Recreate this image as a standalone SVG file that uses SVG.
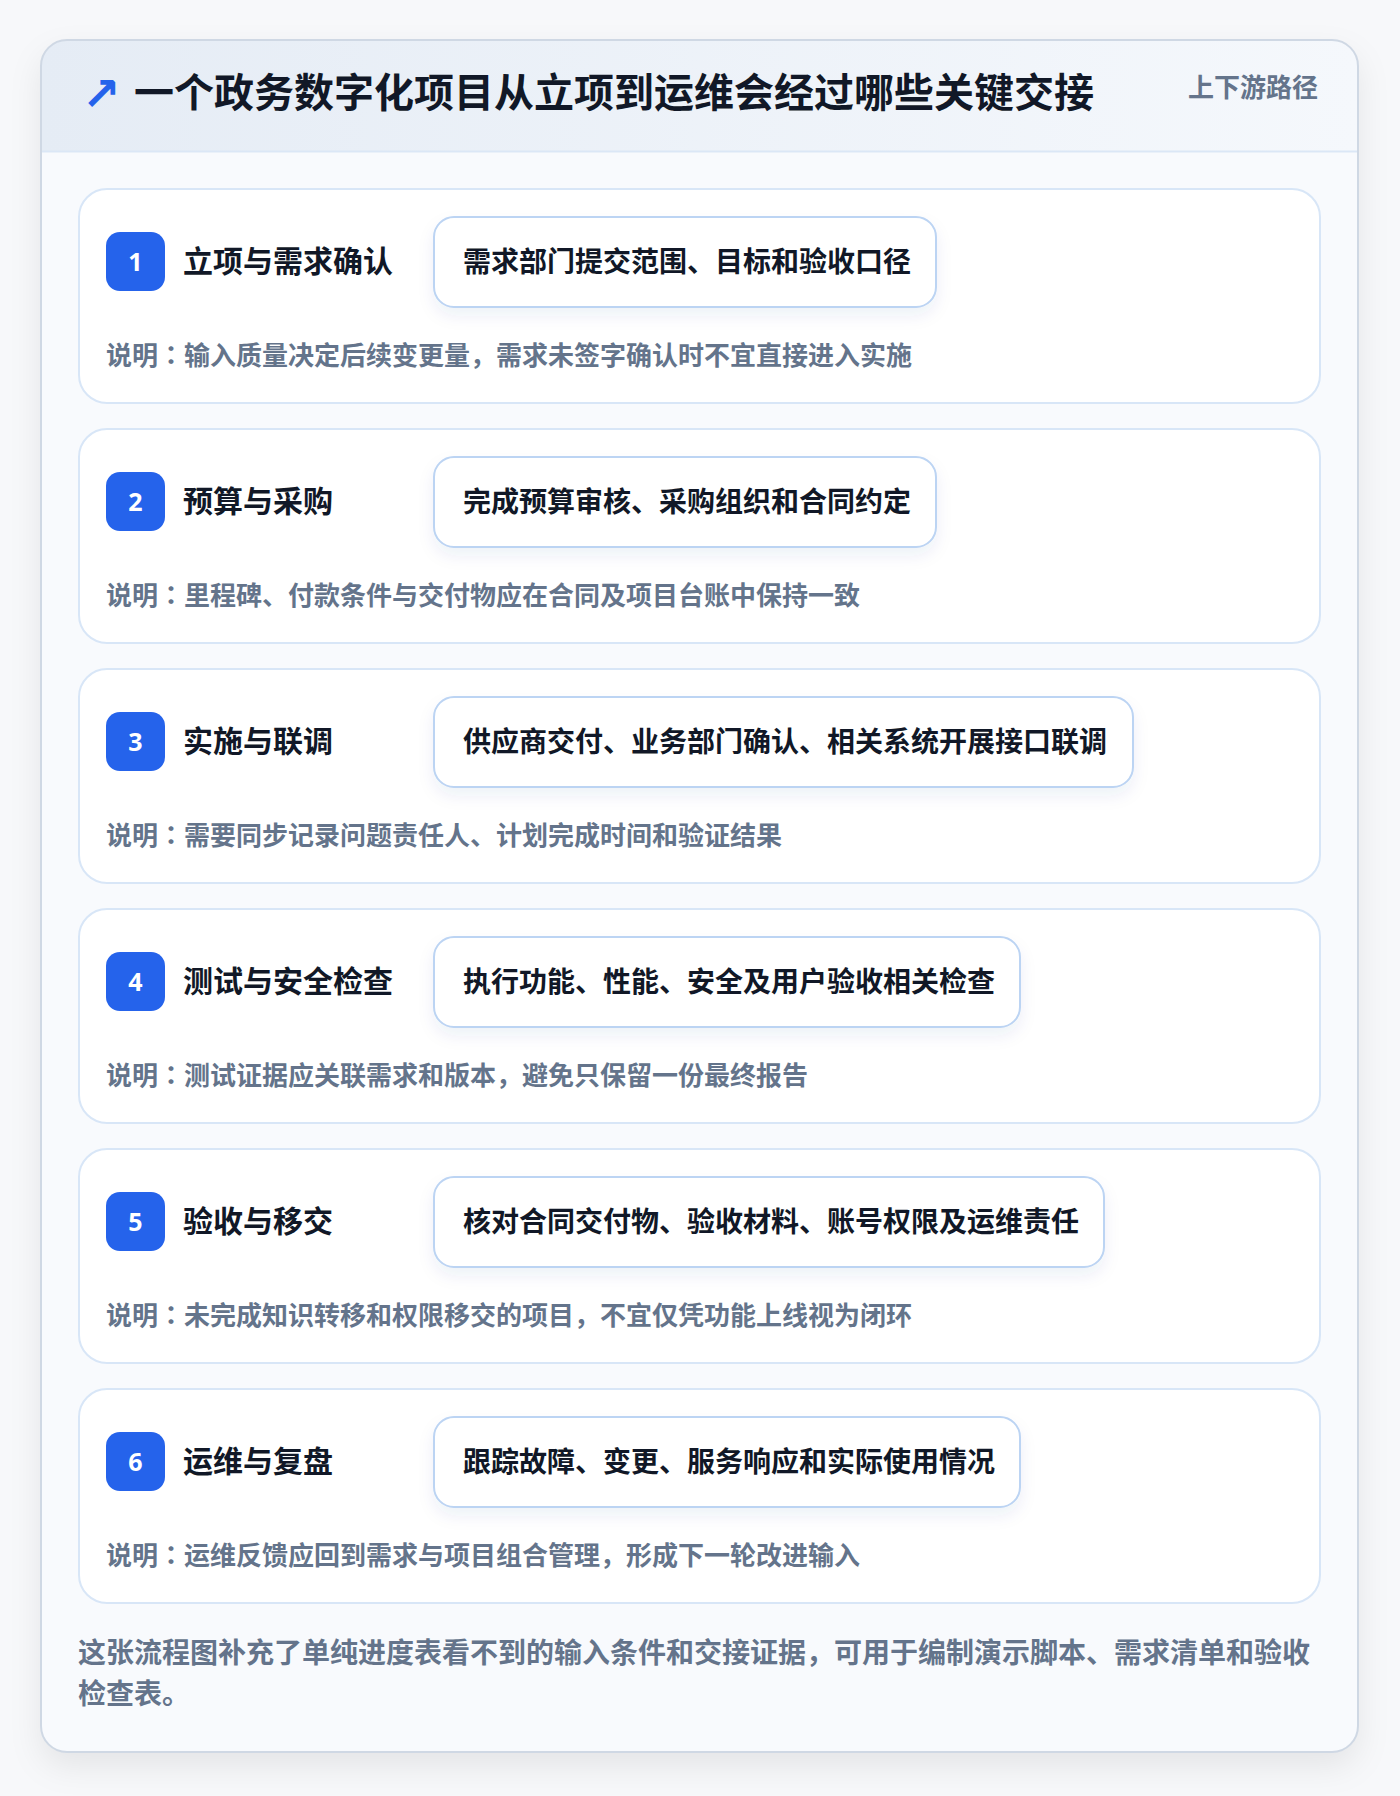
<svg xmlns="http://www.w3.org/2000/svg" width="1400" height="1796" viewBox="0 0 1400 1796">
<defs>
<linearGradient id="hdr" x1="0" y1="0" x2="1" y2="0">
<stop offset="0" stop-color="#e5ecf5"/>
<stop offset="1" stop-color="#f5f8fc"/>
</linearGradient>
<filter id="sh" x="-10%" y="-10%" width="120%" height="120%">
<feDropShadow dx="0" dy="14" stdDeviation="16" flood-color="#0f172a" flood-opacity="0.08"/>
</filter>
<filter id="psh" x="-10%" y="-30%" width="120%" height="170%">
<feDropShadow dx="0" dy="8" stdDeviation="8" flood-color="#1e3a8a" flood-opacity="0.07"/>
</filter>
<clipPath id="cardclip"><rect x="41" y="40" width="1317" height="1712" rx="26"/></clipPath>
<style>
.step{fill:#ffffff;stroke:#d8e6f7;stroke-width:2}
.badge{fill:#2563eb}
.num{font-family:"Noto Sans","Liberation Sans",sans-serif;font-size:25px;font-weight:700;fill:#ffffff;text-anchor:middle}
.stitle{font-family:"Noto Sans CJK SC","Noto Sans",sans-serif;font-size:30px;font-weight:700;fill:#111827}
.pill{fill:#ffffff;stroke:#bcd4f3;stroke-width:2}
.ptext{font-family:"Noto Sans CJK SC","Noto Sans",sans-serif;font-size:28px;font-weight:700;fill:#111827}
.desc{font-family:"Noto Sans CJK SC","Noto Sans",sans-serif;font-size:26px;font-weight:600;fill:#64748b}
.foot{font-family:"Noto Sans CJK SC","Noto Sans",sans-serif;font-size:28px;font-weight:600;fill:#64748b}
.jp{font-family:"Noto Sans CJK JP","Noto Sans CJK SC",sans-serif}
</style>
</defs>
<rect x="0" y="0" width="1400" height="1796" fill="#f7f8fa"/>
<g id="frame">
<rect x="41" y="40" width="1317" height="1712" rx="26" fill="#f8fafd" filter="url(#sh)"/>
<g clip-path="url(#cardclip)">
<rect x="41" y="40" width="1317" height="112" fill="url(#hdr)"/>
<line x1="41" y1="151.5" x2="1358" y2="151.5" stroke="#dbe7f6" stroke-width="2"/>
</g>
<rect x="41" y="40" width="1317" height="1712" rx="26" fill="none" stroke="#cfd8e4" stroke-width="2"/>
</g>
<g id="header">
<text x="82" y="110" font-family="DejaVu Sans,sans-serif" font-size="46" font-weight="700" fill="#2563eb">↗</text>
<text x="134" y="107" font-family="Noto Sans CJK SC,Noto Sans,sans-serif" font-size="40" font-weight="700" fill="#111827">一个政务数字化项目从立项到运维会经过哪些关键交接</text>
<text x="1318" y="97" text-anchor="end" font-family="Noto Sans CJK SC,Noto Sans,sans-serif" font-size="26" font-weight="600" fill="#64748b">上下游路径</text>
</g>
<g id="connectors"/>
<g id="step1" transform="translate(0,189)">
<rect class="step" x="79" y="0" width="1241" height="214" rx="28"/>
<rect class="badge" x="106" y="43" width="59" height="59" rx="14"/>
<text class="num" x="135.5" y="82">1</text>
<text class="stitle" x="183" y="83">立项与需求确认</text>
<rect class="pill" x="434" y="28" width="502" height="90" rx="20" filter="url(#psh)"/>
<text class="ptext" x="463" y="83">需求部门提交范围、目标和验收口径</text>
<text class="desc" x="106" y="176">说明<tspan class="jp">：</tspan>输入质量决定后续变更量，需求未签字确认时不宜直接进入实施</text>
</g>
<g id="step2" transform="translate(0,429)">
<rect class="step" x="79" y="0" width="1241" height="214" rx="28"/>
<rect class="badge" x="106" y="43" width="59" height="59" rx="14"/>
<text class="num" x="135.5" y="82">2</text>
<text class="stitle" x="183" y="83">预算与采购</text>
<rect class="pill" x="434" y="28" width="502" height="90" rx="20" filter="url(#psh)"/>
<text class="ptext" x="463" y="83">完成预算审核、采购组织和合同约定</text>
<text class="desc" x="106" y="176">说明<tspan class="jp">：</tspan>里程碑、付款条件与交付物应在合同及项目台账中保持一致</text>
</g>
<g id="step3" transform="translate(0,669)">
<rect class="step" x="79" y="0" width="1241" height="214" rx="28"/>
<rect class="badge" x="106" y="43" width="59" height="59" rx="14"/>
<text class="num" x="135.5" y="82">3</text>
<text class="stitle" x="183" y="83">实施与联调</text>
<rect class="pill" x="434" y="28" width="699" height="90" rx="20" filter="url(#psh)"/>
<text class="ptext" x="463" y="83">供应商交付、业务部门确认、相关系统开展接口联调</text>
<text class="desc" x="106" y="176">说明<tspan class="jp">：</tspan>需要同步记录问题责任人、计划完成时间和验证结果</text>
</g>
<g id="step4" transform="translate(0,909)">
<rect class="step" x="79" y="0" width="1241" height="214" rx="28"/>
<rect class="badge" x="106" y="43" width="59" height="59" rx="14"/>
<text class="num" x="135.5" y="82">4</text>
<text class="stitle" x="183" y="83">测试与安全检查</text>
<rect class="pill" x="434" y="28" width="586" height="90" rx="20" filter="url(#psh)"/>
<text class="ptext" x="463" y="83">执行功能、性能、安全及用户验收相关检查</text>
<text class="desc" x="106" y="176">说明<tspan class="jp">：</tspan>测试证据应关联需求和版本，避免只保留一份最终报告</text>
</g>
<g id="step5" transform="translate(0,1149)">
<rect class="step" x="79" y="0" width="1241" height="214" rx="28"/>
<rect class="badge" x="106" y="43" width="59" height="59" rx="14"/>
<text class="num" x="135.5" y="82">5</text>
<text class="stitle" x="183" y="83">验收与移交</text>
<rect class="pill" x="434" y="28" width="670" height="90" rx="20" filter="url(#psh)"/>
<text class="ptext" x="463" y="83">核对合同交付物、验收材料、账号权限及运维责任</text>
<text class="desc" x="106" y="176">说明<tspan class="jp">：</tspan>未完成知识转移和权限移交的项目，不宜仅凭功能上线视为闭环</text>
</g>
<g id="step6" transform="translate(0,1389)">
<rect class="step" x="79" y="0" width="1241" height="214" rx="28"/>
<rect class="badge" x="106" y="43" width="59" height="59" rx="14"/>
<text class="num" x="135.5" y="82">6</text>
<text class="stitle" x="183" y="83">运维与复盘</text>
<rect class="pill" x="434" y="28" width="586" height="90" rx="20" filter="url(#psh)"/>
<text class="ptext" x="463" y="83">跟踪故障、变更、服务响应和实际使用情况</text>
<text class="desc" x="106" y="176">说明<tspan class="jp">：</tspan>运维反馈应回到需求与项目组合管理，形成下一轮改进输入</text>
</g>
<g id="footer">
<text class="foot" x="78" y="1663">这张流程图补充了单纯进度表看不到的输入条件和交接证据，可用于编制演示脚本、需求清单和验收</text>
<text class="foot" x="78" y="1704">检查表。</text>
</g>
</svg>
